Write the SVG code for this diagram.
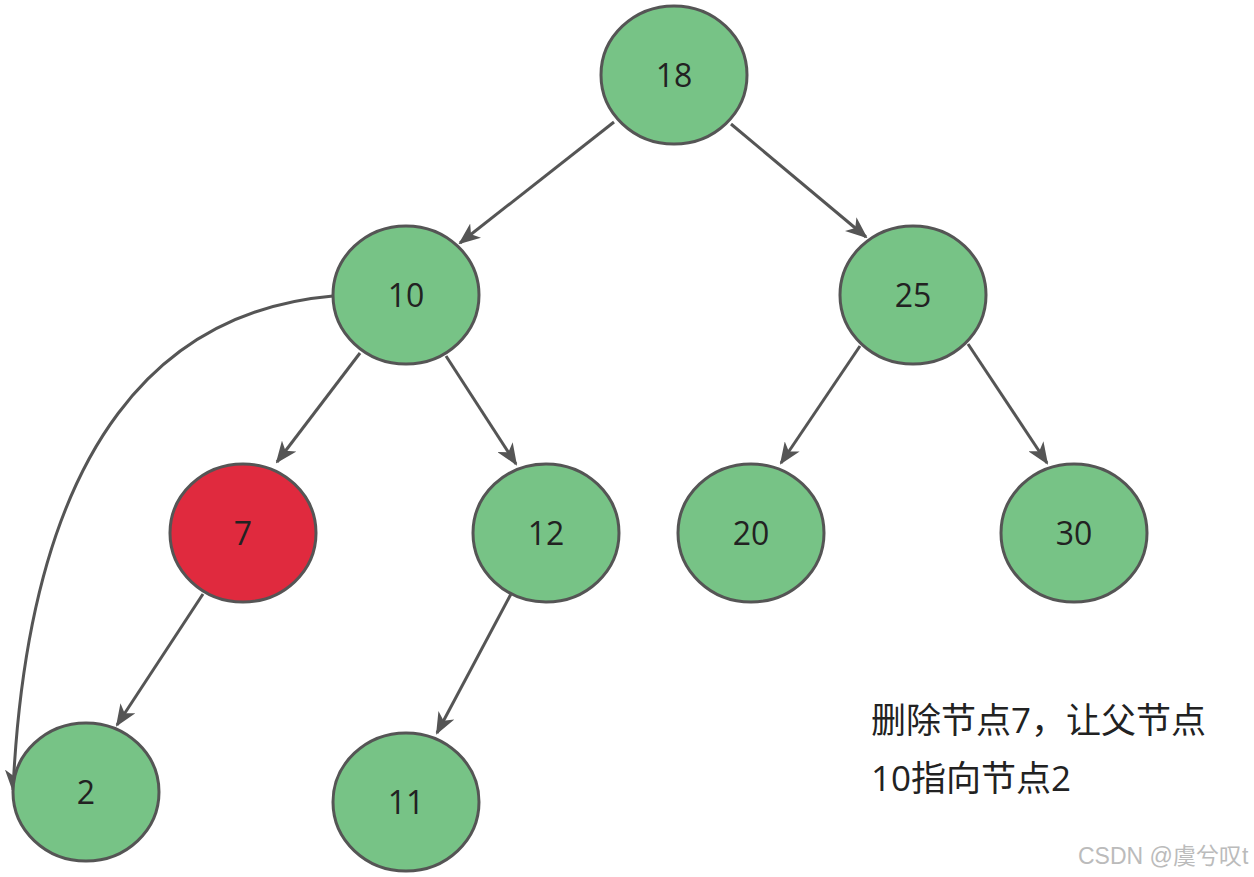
<svg xmlns="http://www.w3.org/2000/svg" width="1254" height="877" viewBox="0 0 1254 877">
<defs>
<marker id="ah" viewBox="0 0 22 18" refX="20" refY="9" markerWidth="22" markerHeight="18" markerUnits="userSpaceOnUse" orient="auto">
<path d="M0,0 L22,9 L0,18 L6,9 Z" fill="#555555"/>
</marker>
<style>
.n ellipse{fill:#77C386;stroke:#555555;stroke-width:3}
.n.red ellipse{fill:#E02A3E}
.n text{font-family:"Open Sans","Noto Sans",sans-serif;font-size:32px;fill:#222222;text-anchor:middle;dominant-baseline:central}
.e{stroke:#555555;stroke-width:3;fill:none;marker-end:url(#ah)}
.note{font-family:"Open Sans","Noto Sans CJK SC",sans-serif;font-size:35px;fill:#222222}
.wm{font-family:"Liberation Sans","Noto Sans CJK SC",sans-serif;font-size:23px;fill:#BBBBBB}
</style>
</defs>
<rect width="1254" height="877" fill="#FFFFFF"/>
<g id="connectors">
<line class="e" x1="614" y1="122" x2="460" y2="243"/>
<line class="e" x1="731" y1="124" x2="866" y2="237"/>
<line class="e" x1="360" y1="353" x2="277" y2="462"/>
<line class="e" x1="446" y1="356" x2="516" y2="464"/>
<line class="e" x1="860" y1="346" x2="781" y2="463"/>
<line class="e" x1="968" y1="344" x2="1047" y2="463"/>
<line class="e" x1="203" y1="594" x2="117" y2="725"/>
<line class="e" x1="511" y1="594" x2="437" y2="733"/>
<path class="e" d="M333,296 C170,310 30,430 13,790"/>
</g>
<g id="n18" class="n"><ellipse cx="674" cy="75" rx="73" ry="69"/><text x="674" y="74">18</text></g>
<g id="n10" class="n"><ellipse cx="406" cy="295" rx="73" ry="69"/><text x="406" y="294">10</text></g>
<g id="n25" class="n"><ellipse cx="913" cy="295" rx="73" ry="69"/><text x="913" y="294">25</text></g>
<g id="n7" class="n red"><ellipse cx="243" cy="533" rx="73" ry="69"/><text x="243" y="532">7</text></g>
<g id="n12" class="n"><ellipse cx="546" cy="533" rx="73" ry="69"/><text x="546" y="532">12</text></g>
<g id="n20" class="n"><ellipse cx="751" cy="533" rx="73" ry="69"/><text x="751" y="532">20</text></g>
<g id="n30" class="n"><ellipse cx="1074" cy="533" rx="73" ry="69"/><text x="1074" y="532">30</text></g>
<g id="n2" class="n"><ellipse cx="86" cy="792" rx="73" ry="69"/><text x="86" y="791">2</text></g>
<g id="n11" class="n"><ellipse cx="406" cy="802" rx="73" ry="69"/><text x="406" y="801">11</text></g>
<g id="note">
<text class="note" x="871" y="733">删除节点7，让父节点</text>
<text class="note" x="871" y="791">10指向节点2</text>
</g>
<text class="wm" x="1078" y="864">CSDN @虞兮叹t</text>
</svg>
